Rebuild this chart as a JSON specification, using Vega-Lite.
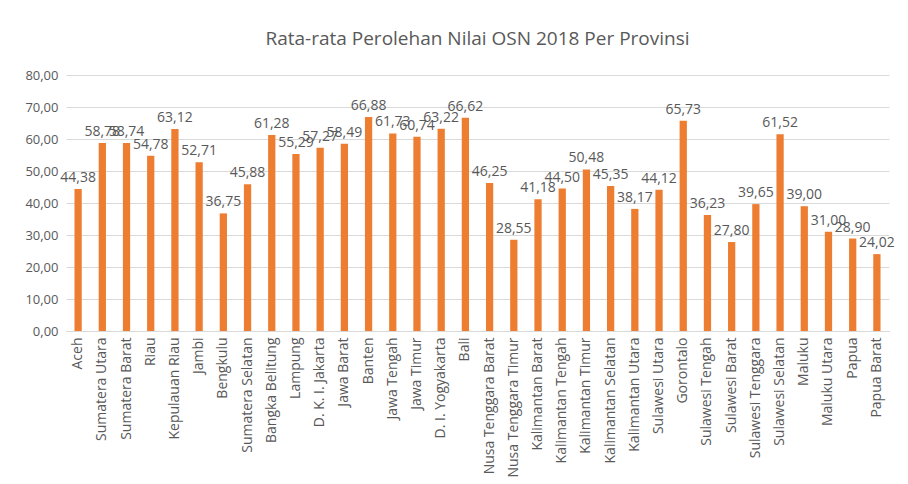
{
  "$schema": "https://vega.github.io/schema/vega-lite/v6.json",
  "width": 908,
  "height": 484,
  "autosize": {"type": "fit", "contains": "padding"},
  "padding": {"left": 24, "top": 30, "right": 14, "bottom": 6},
  "background": "white",
  "config": {
    "locale": {"number": {"decimal": ",", "thousands": ".", "grouping": [3], "currency": ["", ""]}},
    "view": {"stroke": null},
    "font": "Open Sans"
  },
  "title": {"text": "Rata-rata Perolehan Nilai OSN 2018 Per Provinsi", "fontSize": 19, "fontWeight": "normal", "color": "#595959", "font": "Open Sans", "offset": 20},
  "data": {"values": [
    {"provinsi": "Aceh", "nilai": 44.38},
    {"provinsi": "Sumatera Utara", "nilai": 58.78},
    {"provinsi": "Sumatera Barat", "nilai": 58.74},
    {"provinsi": "Riau", "nilai": 54.78},
    {"provinsi": "Kepulauan Riau", "nilai": 63.12},
    {"provinsi": "Jambi", "nilai": 52.71},
    {"provinsi": "Bengkulu", "nilai": 36.75},
    {"provinsi": "Sumatera Selatan", "nilai": 45.88},
    {"provinsi": "Bangka Belitung", "nilai": 61.28},
    {"provinsi": "Lampung", "nilai": 55.29},
    {"provinsi": "D. K. I. Jakarta", "nilai": 57.27},
    {"provinsi": "Jawa Barat", "nilai": 58.49},
    {"provinsi": "Banten", "nilai": 66.88},
    {"provinsi": "Jawa Tengah", "nilai": 61.73},
    {"provinsi": "Jawa Timur", "nilai": 60.74},
    {"provinsi": "D. I. Yogyakarta", "nilai": 63.22},
    {"provinsi": "Bali", "nilai": 66.62},
    {"provinsi": "Nusa Tenggara Barat", "nilai": 46.25},
    {"provinsi": "Nusa Tenggara Timur", "nilai": 28.55},
    {"provinsi": "Kalimantan Barat", "nilai": 41.18},
    {"provinsi": "Kalimantan Tengah", "nilai": 44.50},
    {"provinsi": "Kalimantan Timur", "nilai": 50.48},
    {"provinsi": "Kalimantan Selatan", "nilai": 45.35},
    {"provinsi": "Kalimantan Utara", "nilai": 38.17},
    {"provinsi": "Sulawesi Utara", "nilai": 44.12},
    {"provinsi": "Gorontalo", "nilai": 65.73},
    {"provinsi": "Sulawesi Tengah", "nilai": 36.23},
    {"provinsi": "Sulawesi Barat", "nilai": 27.80},
    {"provinsi": "Sulawesi Tenggara", "nilai": 39.65},
    {"provinsi": "Sulawesi Selatan", "nilai": 61.52},
    {"provinsi": "Maluku", "nilai": 39.00},
    {"provinsi": "Maluku Utara", "nilai": 31.00},
    {"provinsi": "Papua", "nilai": 28.90},
    {"provinsi": "Papua Barat", "nilai": 24.02}
  ]},
  "encoding": {
    "x": {"field": "provinsi", "type": "nominal", "sort": null,
      "scale": {"paddingInner": 0.7, "paddingOuter": 0.35},
      "axis": {"title": null, "labelAngle": -90, "labelFontSize": 14, "labelColor": "#595959", "labelFont": "Open Sans", "ticks": false, "domainColor": "#d9d9d9", "labelPadding": 6}},
    "y": {"field": "nilai", "type": "quantitative",
      "scale": {"domain": [0, 80]},
      "axis": {"title": null, "values": [0,10,20,30,40,50,60,70,80], "format": ".2f", "labelFontSize": 13, "labelColor": "#595959", "labelFont": "Open Sans", "ticks": false, "domain": false, "gridColor": "#d9d9d9", "labelPadding": 8}}
  },
  "layer": [
    {"mark": {"type": "bar", "color": "#ED7D31"}},
    {"mark": {"type": "text", "dy": -11, "fontSize": 14, "color": "#595959", "font": "Open Sans"},
     "encoding": {"text": {"field": "nilai", "type": "quantitative", "format": ".2f"}}}
  ]
}
